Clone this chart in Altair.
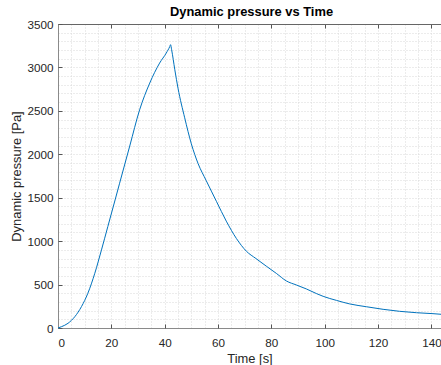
import altair as alt
import pandas as pd

time_s = [0, 1.3, 3.75, 6.3, 8.8, 11.2, 13.8, 16.3, 18.7, 21.3, 23.1, 26.9, 30.6, 34.4,
          38.1, 40.6, 41.9, 42.2, 42.6, 43.8, 45.0, 47.5, 50.0, 52.5, 55.6, 59.4, 63.1,
          66.9, 70.6, 74.2, 78.1, 81.9, 85.6, 89.4, 93.1, 97.0, 99.4, 104.4, 109.4,
          115.6, 121.9, 128.1, 134.4, 140.6, 143.6]
pressure_pa = [0, 15, 54, 130, 246, 400, 630, 899, 1170, 1462, 1667, 2095, 2512, 2820,
               3050, 3166, 3240, 3262, 3204, 2973, 2760, 2420, 2120, 1895, 1695, 1458, 1230,
               1030, 885, 800, 712, 628, 542, 495, 450, 395, 365, 318, 277,
               245, 215, 192, 176, 165, 158]

x_major = [0, 20, 40, 60, 80, 100, 120, 140]
y_major = [0, 500, 1000, 1500, 2000, 2500, 3000, 3500]
x_minor = list(range(0, 145, 5))
y_minor = list(range(0, 3600, 100))

df = pd.DataFrame({"t": time_s, "p": pressure_pa})

W, H = 383, 304
FONT = "Liberation Sans"
x_scale = alt.Scale(domain=[0, 143.6], nice=False, zero=False)
y_scale = alt.Scale(domain=[0, 3500], nice=False)

base = alt.Chart(df)

grid = base.mark_line(opacity=0).encode(
    x=alt.X("t:Q", scale=x_scale, axis=alt.Axis(
        orient="bottom", values=x_minor, grid=True, gridColor="#d8d8d8", gridDash=[1, 2],
        gridWidth=1, labels=False, ticks=False, domain=False, title=None)),
    y=alt.Y("p:Q", scale=y_scale, axis=alt.Axis(
        orient="left", values=y_minor, grid=True, gridColor="#d8d8d8", gridDash=[1, 2],
        gridWidth=1, labels=False, ticks=False, domain=False, title=None)),
)

line = base.mark_line(color="#0072BD", strokeWidth=1, interpolate="monotone").encode(
    x=alt.X("t:Q", scale=x_scale, axis=alt.Axis(
        orient="bottom", values=x_major, grid=False, ticks=False, tickSize=0,
        domain=True, domainColor="#8a8a8a", domainWidth=1,
        labelBaseline="alphabetic", labelPadding=18, format="d",
        title="Time [s]", titleBaseline="alphabetic", titleY=34)),
    y=alt.Y("p:Q", scale=y_scale, axis=alt.Axis(
        orient="left", values=y_major, grid=False, ticks=False, tickSize=0,
        domain=True, domainColor="#8a8a8a", domainWidth=1,
        labelPadding=5, format="d",
        title="Dynamic pressure [Pa]", titleBaseline="alphabetic", titleX=-38)),
)

ticks_in = base.mark_line(opacity=0).encode(
    x=alt.X("t:Q", scale=x_scale, axis=alt.Axis(
        orient="top", offset=-H, values=x_major, ticks=True, tickSize=4, tickColor="#555555",
        labels=False, domain=False, grid=False, title=None)),
    y=alt.Y("p:Q", scale=y_scale, axis=alt.Axis(
        orient="right", offset=-W, values=y_major, ticks=True, tickSize=4, tickColor="#555555",
        labels=False, domain=False, grid=False, title=None)),
)

top_border = base.mark_line(opacity=0).encode(
    x=alt.X("t:Q", scale=x_scale, axis=alt.Axis(
        orient="bottom", offset=-H, values=x_major, ticks=True, tickSize=4, tickColor="#555555",
        labels=False, domain=True, domainColor="#666666", domainWidth=1,
        grid=False, title=None)),
    y=alt.Y("p:Q", scale=y_scale, axis=None),
)

chart = alt.layer(grid, line, ticks_in, top_border).resolve_scale(
    x="shared", y="shared"
).resolve_axis(
    x="independent", y="independent"
).properties(
    width=W, height=H,
    autosize=alt.AutoSizeParams(type="none"),
    padding={"left": 58, "top": 24, "right": 0, "bottom": 37},
    title=alt.TitleParams("Dynamic pressure vs Time", font=FONT, fontSize=12.9,
                          fontWeight="bold", color="#000000", anchor="middle",
                          baseline="alphabetic", offset=-9.5, dx=2),
).configure_view(stroke=None).configure_axis(
    labelFont=FONT, titleFont=FONT, labelFontSize=11.7, titleFontSize=12.9,
    labelColor="#262626", titleColor="#262626", titleFontWeight="normal",
)

chart.save("out.html", embed_options={"renderer": "svg", "actions": False})
